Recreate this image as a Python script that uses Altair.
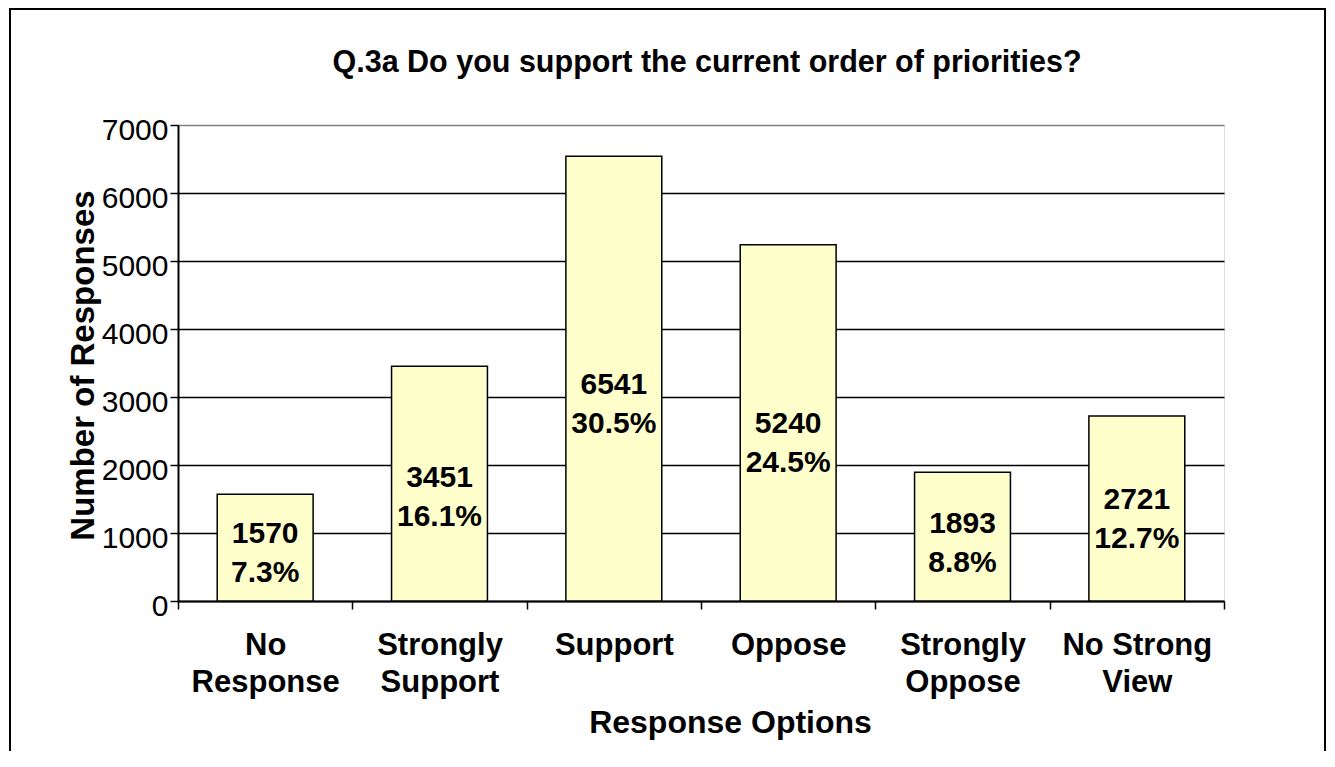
import altair as alt
import pandas as pd

# ---- data ----
categories = ["No Response", "Strongly Support", "Support", "Oppose",
              "Strongly Oppose", "No Strong View"]
label_lines = [["No", "Response"], ["Strongly", "Support"], ["Support"],
               ["Oppose"], ["Strongly", "Oppose"], ["No Strong", "View"]]
counts = [1570, 3451, 6541, 5240, 1893, 2721]
percents = [7.3, 16.1, 30.5, 24.5, 8.8, 12.7]
y_ticks = [0, 1000, 2000, 3000, 4000, 5000, 6000, 7000]

title_text = "Q.3a Do you support the current order of priorities?"
x_title = "Response Options"
y_title = "Number of Responses"

FONT = "Liberation Sans"

df = pd.DataFrame({"option": categories, "count": counts, "pct": percents})
df["label"] = [f"{c}\n{p}%" for c, p in zip(counts, percents)]

# label expression for wrapped category names
expr = "datum.label"
for cat, lines in reversed(list(zip(categories, label_lines))):
    arr = "[" + ",".join("'" + s + "'" for s in lines) + "]"
    expr = f"datum.label == '{cat}' ? {arr} : ({expr})"

x_enc = alt.X(
    "option:N", sort=categories,
    scale=alt.Scale(paddingInner=0, paddingOuter=0),
    axis=alt.Axis(
        title=x_title, labelAngle=0, labelExpr=expr, tickBand="extent",
        tickSize=8, tickColor="black", tickWidth=1.5,
        domainColor="black", domainWidth=2,
        labelFont=FONT, labelFontSize=31, labelFontWeight="bold",
        labelColor="black", labelBaseline="top", labelPadding=21,
        labelLineHeight=37, labelAlign="center",
        titleFont=FONT, titleFontSize=32, titleFontWeight="bold",
        titleColor="black", titleX=552, titleY=131, titleBaseline="alphabetic",
        grid=False,
    ),
)

y_enc = alt.Y(
    "count:Q",
    scale=alt.Scale(domain=[0, 7000], nice=False),
    axis=alt.Axis(
        values=y_ticks, title=y_title, format="d",
        grid=True,
        gridColor={"condition": {"test": "datum.value === 7000", "value": "#808080"},
                   "value": "black"},
        gridWidth=1.5,
        tickSize=8, tickColor="black", tickWidth=1.5,
        domainColor="black", domainWidth=2,
        labelFont=FONT, labelFontSize=30, labelColor="black",
        labelPadding=2, labelOffset=5,
        titleFont=FONT, titleFontSize=33, titleFontWeight="bold",
        titleColor="black", titleAngle=270, titleX=-95, titleY=240,
        titleBaseline="middle", titleAlign="center",
    ),
)

base = alt.Chart(df)

bars = base.mark_bar(
    width=alt.RelativeBandSize(0.55), fill="#FFFFCC",
    stroke="black", strokeWidth=1.5,
).encode(x=x_enc, y=y_enc)

labels = base.transform_calculate(
    labelpos="datum.count * 0.44"
).mark_text(
    lineBreak="\n", font=FONT, fontSize=30, fontWeight="bold",
    color="black", align="center", baseline="middle", lineHeight=39,
    dy=-20,
).encode(
    x=alt.X("option:N", sort=categories),
    y=alt.Y("labelpos:Q"),
    text="label:N",
)

title = alt.Chart(pd.DataFrame({"t": [title_text]})).mark_text(
    font=FONT, fontSize=30.5, fontWeight="bold", color="black",
    align="center", baseline="alphabetic",
).encode(x=alt.value(529), y=alt.value(-53), text="t:N")

frame = alt.Chart(pd.DataFrame({"f": [0]})).mark_rect(
    fillOpacity=0, stroke="black", strokeWidth=2,
).encode(
    x=alt.value(-168), x2=alt.value(1147),
    y=alt.value(-116), y2=alt.value(700),
)

chart = alt.layer(bars, labels, title, frame).properties(
    width=1046, height=476,
    autosize=alt.AutoSizeParams(type="none"),
    padding={"left": 170, "top": 117, "right": 103, "bottom": 150},
).configure_view(
    stroke="#808080", strokeWidth=2
).configure(background="white")

chart.save("out.html", embed_options={"renderer": "svg", "actions": False})
